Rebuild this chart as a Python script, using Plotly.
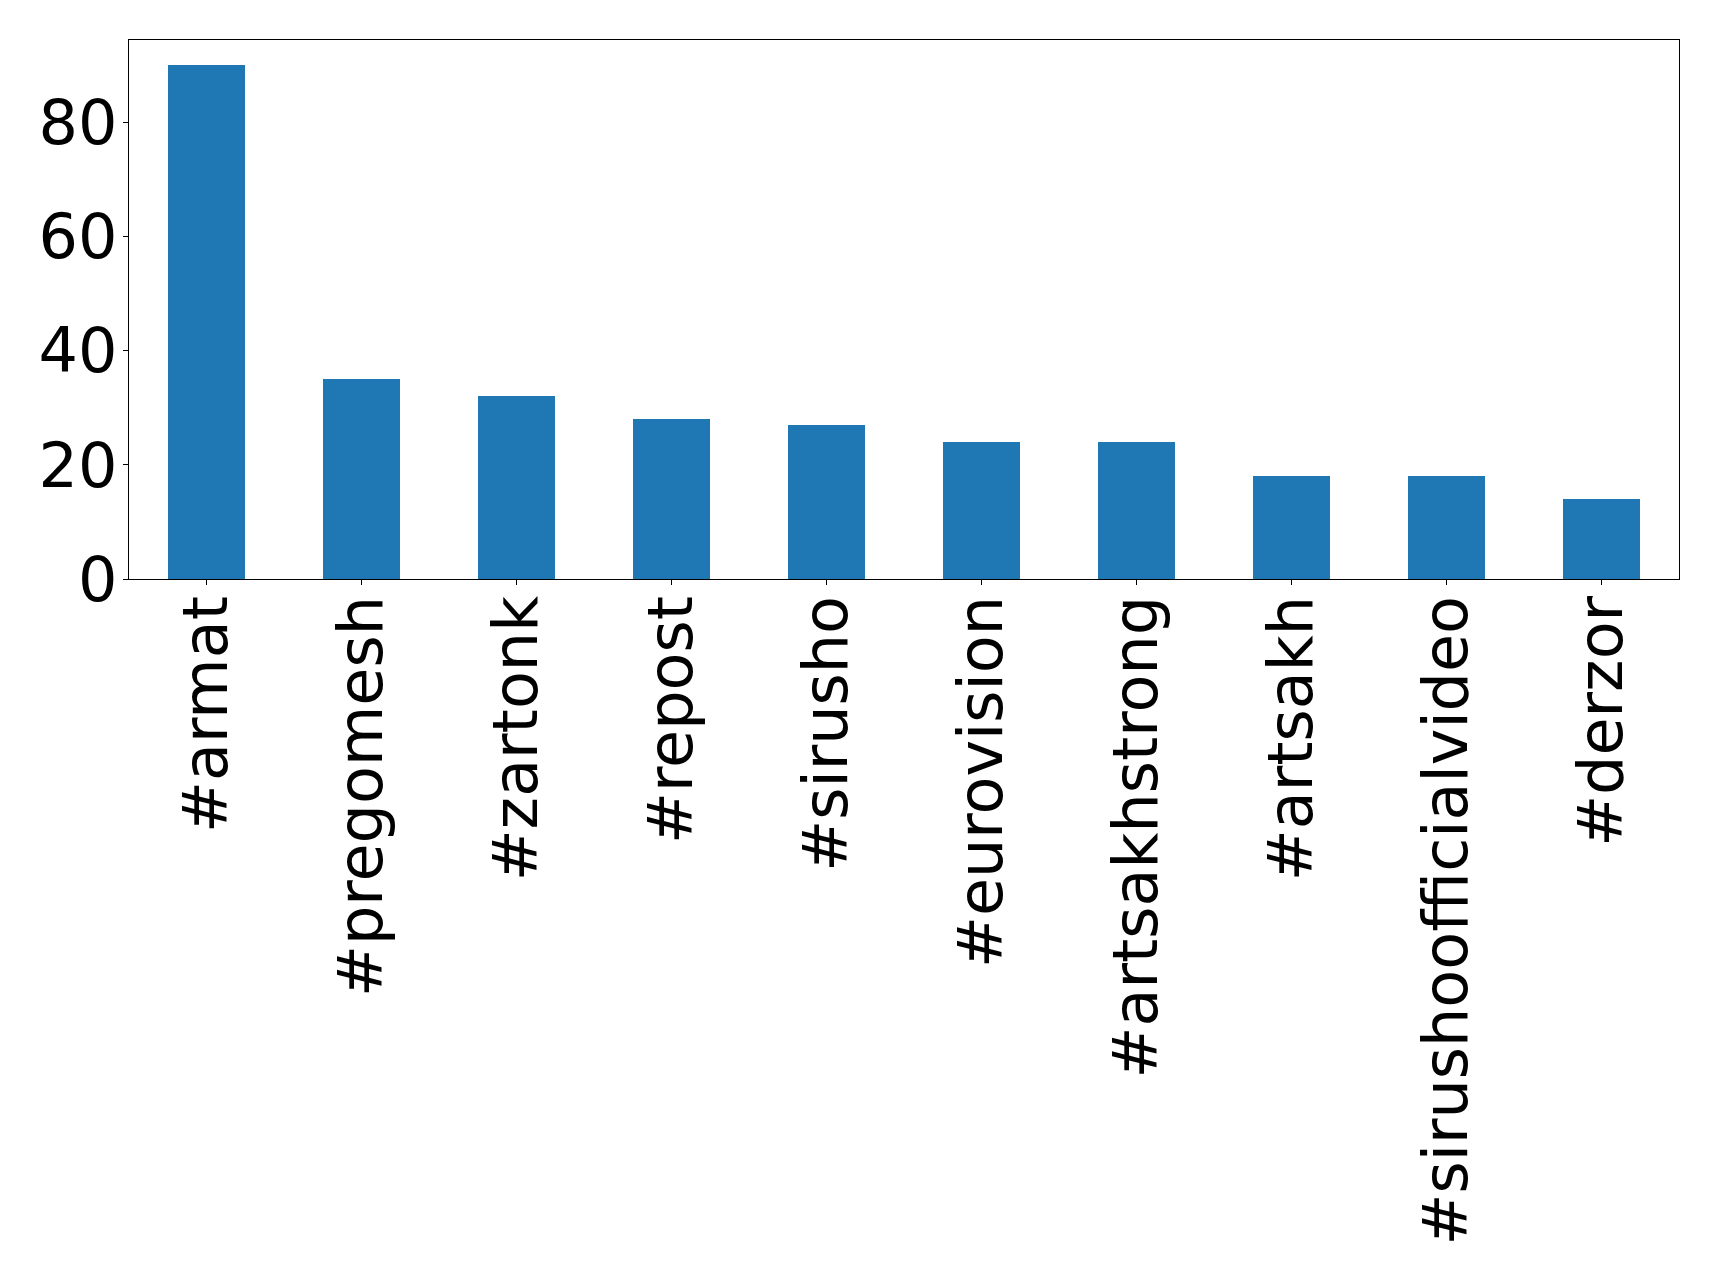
import plotly.graph_objects as go

categories = ["#armat", "#pregomesh", "#zartonk", "#repost", "#sirusho",
              "#eurovision", "#artsakhstrong", "#artsakh",
              "#sirushoofficialvideo", "#derzor"]
counts = [90, 35, 32, 28, 27, 24, 24, 18, 18, 14]
y_ticks = [0, 20, 40, 60, 80]

fig = go.Figure(go.Bar(x=categories, y=counts, width=0.5,
                       marker=dict(color="#1f77b4", line=dict(width=0))))

axis_common = dict(showline=True, linecolor="black", linewidth=1.3, mirror=True,
                   showgrid=False, zeroline=False, ticks="outside", ticklen=5,
                   tickwidth=1.3, tickcolor="black", automargin=False,
                   tickfont=dict(family="DejaVu Sans", size=62, color="black"))

fig.update_layout(
    template="none",
    width=1719, height=1284, autosize=False,
    margin=dict(l=129, r=40, t=40, b=705, pad=0),
    paper_bgcolor="white", plot_bgcolor="white",
    showlegend=False, bargap=0,
    xaxis=dict(range=[-0.5, 9.5], tickangle=-90, ticklabelstandoff=-14,
               **axis_common),
    yaxis=dict(range=[0, 94.4], tickvals=y_ticks, ticklabelstandoff=-7,
               **axis_common),
)

fig.write_html("out.html",
               config={"displayModeBar": False},
               post_script="document.body.style.margin='0px';"
                           "document.documentElement.style.margin='0px';")
